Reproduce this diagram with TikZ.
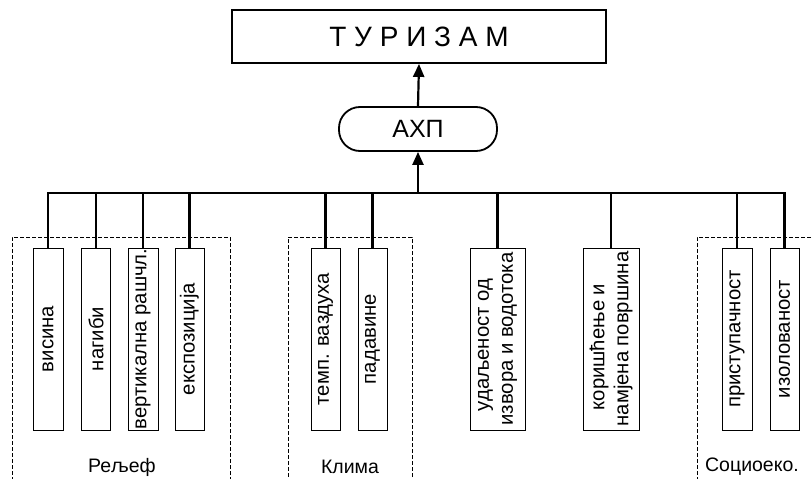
\documentclass[tikz,border=0pt]{standalone}
\usepackage{fontspec}
\setmainfont{Liberation Sans}
\usetikzlibrary{arrows.meta}
\begin{document}
\begin{tikzpicture}[x=1pt,y=-1pt,
  vbox/.style={draw,line width=1pt,rotate=90,minimum width=182pt,minimum height=#1,
    inner sep=0pt,font=\fontsize{20.3}{24}\selectfont,align=center},
  grp/.style={draw,line width=0.8pt,dash pattern=on 4pt off 2pt,inner sep=0pt},
  grplabel/.style={font=\fontsize{19.5}{22}\selectfont,inner sep=0pt},
  conn/.style={line width=2.2pt},
  arr/.style={line width=2.2pt,-{Triangle[length=13pt,width=11pt]}}]
\useasboundingbox (0,0) rectangle (812,479);
\clip (0,0) rectangle (812,479);
% group frames
\node[grp,minimum width=218pt,minimum height=242pt] (gR) at (121,358) {};
\node[grp,minimum width=124pt,minimum height=242pt] (gK) at (350,358) {};
\node[grp,minimum width=140pt,minimum height=242pt] (gS) at (767,358) {};
\node[grplabel] (lR) at (122,467) {Рељеф};
\node[grplabel] (lK) at (350,467) {Клима};
\node[grplabel] (lS) at (752,467) {Социоеко.};
% top
\node[draw,line width=1.8pt,minimum width=374pt,minimum height=53pt,inner sep=0pt,
  font=\fontsize{28}{30}\selectfont] (tur) at (419,36.5) {Т У Р И З А М};
\node[draw,line width=1.8pt,minimum width=158pt,minimum height=44pt,inner sep=0pt,
  rounded corners=21pt,font=\fontsize{25}{27}\selectfont] (ahp) at (418,129) {АХП};
\coordinate (bus) at (418,193);
% boxes
\node[vbox=30pt] (b1) at (48,339) {висина};
\node[vbox=29pt] (b2) at (96,339) {нагиби};
\node[vbox=30pt] (b3) at (143,339) {вертикална рашчл.};
\node[vbox=29pt] (b4) at (189.5,339) {експозиција};
\node[vbox=29pt] (b5) at (325.5,339) {темп. ваздуха};
\node[vbox=29pt] (b6) at (372.5,339) {падавине};
\node[vbox=55pt] (b7) at (497.5,339) {удаљеност од\hspace*{12pt}\\извора и водотока};
\node[vbox=56pt] (b8) at (611,339) {коришћење и\hspace*{16pt}\\намјена површина};
\node[vbox=30pt] (b9) at (737,339) {приступачност};
\node[vbox=29pt] (b10) at (784.5,339) {изолованост};
% connectors
\foreach \b in {b1,b2,b3,b4,b5,b6,b7,b8,b9,b10}
  \draw[conn] (\b.east) |- (bus);
\draw[arr] (bus) -- (ahp.south);
\draw[arr] (ahp.north) -- (tur.south);
\end{tikzpicture}
\end{document}
